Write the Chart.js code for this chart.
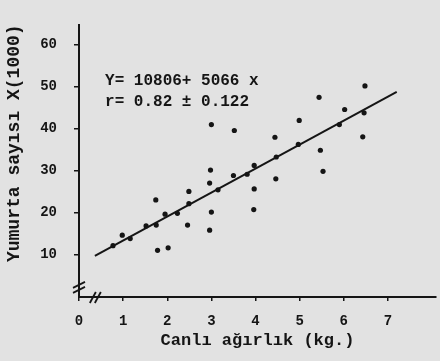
<!DOCTYPE html>
<html>
<head>
<meta charset="utf-8">
<script src="https://cdn.jsdelivr.net/npm/chart.js@4/dist/chart.umd.min.js"></script>
<style>
html,body{margin:0;padding:0;background:#e2e2e2;}
#wrap{width:440px;height:361px;position:relative;}
</style>
</head>
<body>
<div id="wrap"><canvas id="c" width="440" height="361"></canvas></div>
<script>
// Live weight (kg) of each bird
const weightKg = [0.77, 0.98, 1.16, 1.52, 1.74, 1.75, 1.78, 1.95, 2.02, 2.23,
  2.49, 2.49, 2.46, 2.96, 3.15, 3.00, 2.96, 3.00, 3.52, 2.98,
  3.50, 3.81, 3.97, 3.97, 3.96, 4.44, 4.47, 4.46, 4.99, 4.97,
  5.44, 5.47, 5.53, 5.90, 6.02, 6.43, 6.46, 6.48];
// Egg count (x1000)
const eggCount = [12.2, 14.7, 13.9, 16.9, 23.1, 17.1, 11.1, 19.7, 11.7, 19.9,
  25.1, 22.2, 17.1, 27.1, 25.5, 20.2, 15.9, 41.0, 39.6, 30.2,
  28.9, 29.2, 31.3, 25.7, 20.8, 38.0, 33.3, 28.1, 42.0, 36.3,
  47.5, 34.9, 29.9, 41.0, 44.6, 38.1, 43.8, 50.2];
// Regression line end points as drawn
const fitX = [0.36, 7.2];
const fitY = [9.8, 48.8];
// Tick labels
const xTicks = [0, 1, 2, 3, 4, 5, 6, 7];
const yTicks = [10, 20, 30, 40, 50, 60];
const xTitle = 'Canlı ağırlık (kg.)';
const yTitle = 'Yumurta sayısı X(1000)';
const eqLines = ['Y= 10806+ 5066 x', 'r= 0.82 ± 0.122'];

const ink = '#151515';
const mono = "'Liberation Mono', 'DejaVu Sans Mono', monospace";

const extras = {
  id: 'extras',
  afterDraw(chart) {
    const {ctx, scales: {x, y}} = chart;
    ctx.save();
    ctx.strokeStyle = ink;
    ctx.lineWidth = 1.8;
    // axis break on y axis
    const x0 = x.getPixelForValue(0);
    const yb = y.getPixelForValue(2.3);
    for (const d of [-2.5, 2.5]) {
      ctx.beginPath();
      ctx.moveTo(x0 - 6, yb + d + 3);
      ctx.lineTo(x0 + 6, yb + d - 3);
      ctx.stroke();
    }
    // axis break on x axis
    const y0 = y.getPixelForValue(0);
    const xb = x.getPixelForValue(0.37);
    for (const d of [-2.5, 2.5]) {
      ctx.beginPath();
      ctx.moveTo(xb + d - 3, y0 + 6);
      ctx.lineTo(xb + d + 3, y0 - 5);
      ctx.stroke();
    }
    ctx.fillStyle = ink;
    // y axis title
    ctx.save();
    ctx.font = 'bold 18px ' + mono;
    ctx.translate(14, chart.chartArea.top - 1);
    ctx.rotate(-Math.PI / 2);
    ctx.textAlign = 'right';
    ctx.textBaseline = 'middle';
    ctx.fillText(yTitle, 0, 0);
    ctx.restore();
    // equation text
    ctx.font = 'bold 16px ' + mono;
    ctx.textBaseline = 'middle';
    ctx.textAlign = 'left';
    const tx = x.getPixelForValue(0.59);
    ctx.fillText(eqLines[0], tx, y.getPixelForValue(51.3));
    ctx.fillText(eqLines[1], tx, y.getPixelForValue(46.4));
    ctx.restore();
  }
};

new Chart(document.getElementById('c'), {
  type: 'scatter',
  data: {
    datasets: [
      {
        type: 'line',
        data: fitX.map((v, i) => ({x: v, y: fitY[i]})),
        borderColor: ink,
        borderWidth: 2,
        pointRadius: 0,
        fill: false
      },
      {
        data: weightKg.map((v, i) => ({x: v, y: eggCount[i]})),
        backgroundColor: ink,
        borderColor: ink,
        pointRadius: 2.6,
        borderWidth: 0
      }
    ]
  },
  options: {
    responsive: false,
    animation: false,
    layout: {padding: {top: 11, right: 0, left: 0, bottom: 0}},
    plugins: {legend: {display: false}, tooltip: {enabled: false}},
    scales: {
      x: {
        type: 'linear',
        min: 0,
        max: 8.09,
        afterBuildTicks: (axis) => { axis.ticks = xTicks.map(v => ({value: v})); },
        afterFit: (axis) => { axis.height = 64; },
        border: {display: true, color: ink, width: 2},
        grid: {drawOnChartArea: false, drawTicks: true, tickLength: 4, color: ink, lineWidth: 1.5},
        ticks: {color: ink, padding: 12, font: {family: mono, size: 14, weight: 'bold'}, maxRotation: 0},
        title: {display: true, text: xTitle, color: ink, font: {family: mono, size: 17, weight: 'bold'}, padding: {top: 0, bottom: 10}}
      },
      y: {
        type: 'linear',
        min: 0,
        max: 64.6,
        afterBuildTicks: (axis) => { axis.ticks = yTicks.map(v => ({value: v})); },
        afterFit: (axis) => { axis.width = 79; },
        border: {display: true, color: ink, width: 2},
        grid: {drawOnChartArea: false, drawTicks: true, tickLength: 5, color: ink, lineWidth: 1.5},
        ticks: {color: ink, padding: 17, font: {family: mono, size: 14, weight: 'bold'}}
      }
    }
  },
  plugins: [extras]
});
</script>
</body>
</html>
